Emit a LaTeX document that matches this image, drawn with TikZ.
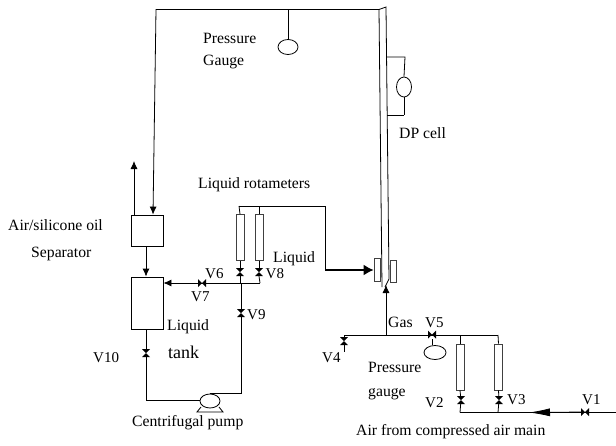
\documentclass[tikz,border=0pt]{standalone}
\usepackage{fontspec}
\setmainfont{Liberation Serif}
\usetikzlibrary{arrows.meta,shapes.geometric}
\tikzset{
 pipe/.style={draw=black,line width=0.8pt},
 flow/.style={pipe,-{Latex[length=8pt,width=7pt]}},
 boxx/.style={draw=black,line width=0.8pt,fill=white,inner sep=0pt,minimum width=#1},
 meter/.style={draw=black!75,line width=0.8pt,fill=white,inner sep=0pt,minimum width=8pt,minimum height=46pt},
 gaugeo/.style={draw=black,line width=0.8pt,fill=white,ellipse,inner sep=0pt},
 vv/.style={inner sep=0pt,minimum size=8pt,path picture={\fill[black] (path picture bounding box.north west)--(path picture bounding box.north east)--(path picture bounding box.south west)--(path picture bounding box.south east)--cycle;}},
 hv/.style={inner sep=0pt,minimum size=8pt,path picture={\fill[black] (path picture bounding box.north west)--(path picture bounding box.south west)--(path picture bounding box.north east)--(path picture bounding box.south east)--cycle;}},
 lbl/.style={anchor=west,inner sep=0pt,font=\fontsize{15.7}{15.7}\selectfont},
 vlbl/.style={anchor=west,inner sep=0pt,font=\fontsize{15}{15}\selectfont},
}
\begin{document}
\begin{tikzpicture}[x=1pt,y=-1pt]
\useasboundingbox (0,0) rectangle (616,445);
% vessels
\node[boxx=32pt,minimum height=31pt] (sep) at (147,230.5) {};
\node[boxx=32pt,minimum height=52pt] (tank) at (147,303) {};
\node[meter] (rl1) at (240,237.5) {};
\node[meter] (rl2) at (259,237.5) {};
\node[meter] (rg1) at (460.5,367) {};
\node[meter] (rg2) at (498.5,367) {};
\node[draw=black!75,line width=0.8pt,inner sep=0pt,minimum width=6pt,minimum height=23pt] (col1) at (377,269.5) {};
\node[draw=black!75,line width=0.8pt,inner sep=0pt,minimum width=6pt,minimum height=22pt] (col2) at (393,271) {};
% gauges and pump
\node[gaugeo,minimum width=20pt,minimum height=15pt] (g1) at (288,47) {};
\node[gaugeo,minimum width=15pt,minimum height=20pt] (dp) at (404,87) {};
\node[gaugeo,minimum width=22pt,minimum height=14pt] (g2) at (435,352.5) {};
\node[gaugeo,minimum width=20pt,minimum height=14pt] (pump) at (210,401) {};
% valves
\node[vv] (v10) at (146,353) {};
\node[vv] (v9) at (241,313) {};
\node[vv] (v6) at (240,272) {};
\node[vv] (v8) at (259,272) {};
\node[hv] (v7) at (202,283) {};
\node[hv] (v5) at (432,334.5) {};
\node[vv] (v4) at (344,341) {};
\node[vv] (v2) at (461,400) {};
\node[vv] (v3) at (499,400) {};
\node[hv] (v1) at (585,412) {};
% junction coordinates
\coordinate (tl) at (156,9.5);
\coordinate (tr) at (379,9.5);
\coordinate (trr) at (386,7);
\coordinate (tb1) at (382,287);
\coordinate (tb2) at (389,279);
\coordinate (tb3) at (385,287);
\coordinate (vent) at (134,161);
\coordinate (ltop) at (239,206);
\coordinate (ltopr) at (325,206);
\coordinate (lturn) at (325,270);
\coordinate (ljoin) at (260,283);
\coordinate (pout) at (210,393.5);
\coordinate (pc) at (241,393.5);
\coordinate (tbot) at (146,400.5);
\coordinate (gj) at (386,335);
\coordinate (gl) at (344,335);
\coordinate (gr) at (498,335);
\coordinate (g4end) at (344,352);
\coordinate (air) at (616,412.5);
\coordinate (ab1) at (460,412.5);
\coordinate (ab2) at (498,412.5);
\coordinate (airtip) at (529,412.5);
\coordinate (dp1) at (387,57);
\coordinate (dp2) at (405,57);
\coordinate (dp3) at (387,115);
\coordinate (dp4) at (404,115);
% long vertical tube
\draw[pipe] (tb1)--(tr)--(trr)--(tb2)--(tb3);
% feed to separator
\draw[flow] (tr)--(tl)--(sep.north -| 153,0);
\draw[flow] (sep.north -| vent)--(vent);
\draw[flow] (sep.south -| 146,0)--(tank.north -| 146,0);
\draw[flow] (ljoin)--(tank.east |- ljoin);
\draw[pipe] (tank.south -| tbot)--(v10);
\draw[pipe] (v10)--(tbot)--(pump.west |- tbot);
\draw[pipe] (pout)--(pc)--(v9);
\draw[pipe] (v9)--(241,283);
\draw[pipe] (v6.south)--(240,283);
\draw[pipe] (v6)--(rl1);
\draw[pipe] (v8.south)--(ljoin);
\draw[pipe] (v8)--(rl2);
\draw[pipe] (rl1.north)--(ltop);
\draw[pipe] (rl2.north)--(259,206);
\draw[pipe] (ltop)--(ltopr)--(lturn);
\draw[-{Latex[length=10pt,width=11pt]},line width=1.6pt] (lturn)--(lturn -| col1.west);
% gauge 1 & DP
\draw[pipe] (288,10)--(g1.north);
\draw[pipe] (dp1)--(dp2)--(dp.north);
\draw[pipe] (dp.south)--(dp4);
\draw[pipe] (dp3)--(dp4);
% gas
\draw[flow] (gj)--(386,285);
\draw[pipe] (gl)--(gr);
\draw[pipe] (gl)--(v4)--(g4end);
\draw[pipe] (g2.north -| v5)--(v5);
\draw[pipe] (rg1.north -| 460,0)--(460,335);
\draw[pipe] (rg2.north)--(gr);
\draw[pipe] (rg1.south -| 460,0)--(v2);
\draw[pipe] (rg2.south)--(v3);
\draw[pipe] (v2)--(ab1);
\draw[pipe] (v3)--(ab2);
\draw[pipe] (ab1)--(air);
\draw[-{Latex[length=21pt,width=8pt]},line width=0.8pt] (v1)--(airtip);
% pump base
\draw[pipe] (201,407)--(197,412)--(223,412)--(219,407);
% labels
\node[lbl] (t1) at (203,38) {Pressure};
\node[lbl] (t2) at (203,62) {Gauge};
\node[lbl] (t3) at (399,133) {DP cell};
\node[lbl] (t4) at (8,225) {Air/silicone oil};
\node[lbl] (t5) at (31,254) {Separator};
\node[lbl] (t6) at (198,185) {Liquid rotameters};
\node[lbl] (t7) at (273,259) {Liquid};
\node[vlbl] (t8) at (205,274) {V6};
\node[vlbl] (t9) at (265.5,274) {V8};
\node[vlbl] (t10) at (191,297) {V7};
\node[vlbl] (t11) at (247,315) {V9};
\node[vlbl] (t12) at (93,358) {V10};
\node[lbl] (t13) at (167,327) {Liquid};
\node[lbl,font=\fontsize{18}{18}\selectfont] (t14) at (168,352) {tank};
\node[lbl] (t15) at (132,423) {Centrifugal pump};
\node[lbl] (t16) at (388,322) {Gas};
\node[vlbl] (t17) at (425,323) {V5};
\node[vlbl] (t18) at (322,358) {V4};
\node[lbl] (t19) at (368,367) {Pressure};
\node[lbl] (t20) at (368,394) {gauge};
\node[vlbl] (t21) at (425,403) {V2};
\node[vlbl] (t22) at (507,400) {V3};
\node[vlbl] (t23) at (582,400) {V1};
\node[lbl] (t24) at (356,432) {Air from compressed air main};
\end{tikzpicture}
\end{document}
